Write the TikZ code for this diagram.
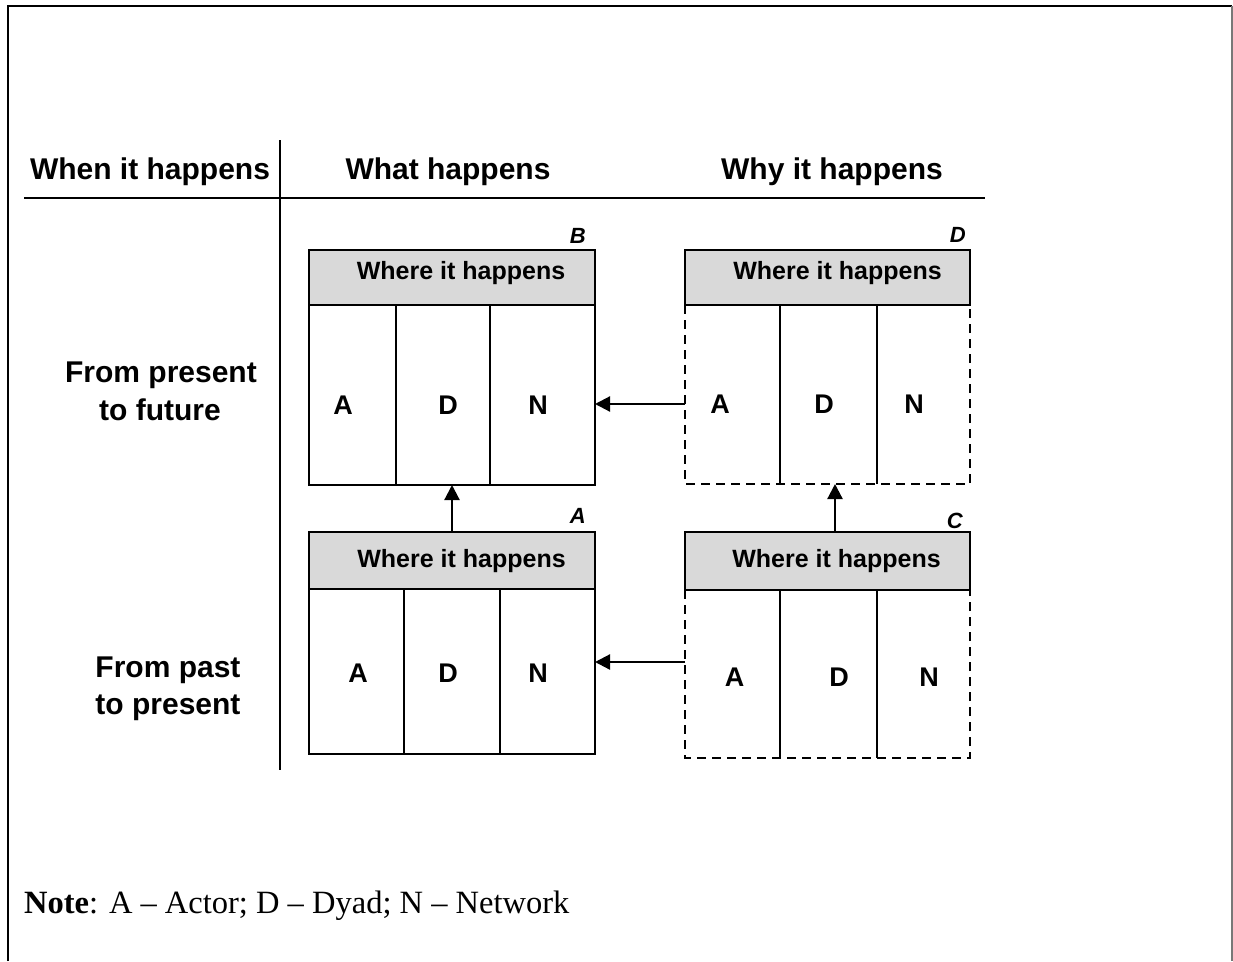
\documentclass[tikz,border=0pt]{standalone}
\usepackage{fontspec}
\setmainfont{Liberation Serif}
\newfontfamily\arial{Liberation Sans}
\usetikzlibrary{arrows.meta}
\definecolor{hdrgray}{RGB}{217,217,217}
\definecolor{framegray}{RGB}{120,120,120}
\begin{document}
\begin{tikzpicture}[x=1pt,y=-1pt,
  lw/.style={line width=2.2pt},
  hdr/.style={draw,lw,fill=hdrgray,inner sep=0pt,outer sep=0pt,minimum width=286pt},
  bodybox/.style={inner sep=0pt,outer sep=0pt,minimum width=286pt},
  solidbody/.style={bodybox,draw,lw},
  dashedge/.style={lw,dash pattern=on 9pt off 6pt},
  divider/.style={lw},
  coltitle/.style={anchor=base,font=\arial\bfseries\fontsize{30}{34}\selectfont},
  rowtitle/.style={anchor=base,font=\arial\bfseries\fontsize{30}{34}\selectfont},
  wheretext/.style={anchor=base,font=\arial\bfseries\fontsize{25}{28}\selectfont},
  letter/.style={anchor=base,font=\arial\bfseries\fontsize{27}{30}\selectfont},
  tag/.style={anchor=base east,inner sep=0pt,font=\arial\bfseries\itshape\fontsize{22}{24}\selectfont},
  arr/.style={lw,-{Triangle[length=15pt,width=15pt]}}
]
\useasboundingbox (0,0) rectangle (1233,961);
% outer frame
\draw[line width=2.6pt] (8,961) -- (8,6) -- (1232,6);
\draw[lw,framegray] (1232,6) -- (1232,961);

% table rules
\draw[lw] (24,198) -- (985,198);
\draw[lw] (280,140) -- (280,770);

% column titles
\node[coltitle] (tWhen) at (150,179) {When it happens};
\node[coltitle] (tWhat) at (448,179) {What happens};
\node[coltitle] (tWhy)  at (832,179) {Why it happens};

% row titles
\node[rowtitle] (r1a) at (161,382) {From present};
\node[rowtitle] (r1b) at (160,420) {to future};
\node[rowtitle] (r2a) at (168,677) {From past};
\node[rowtitle] (r2b) at (168,714) {to present};

% ---------- Box B (top left) ----------
\node[hdr,minimum height=55pt] (Bhead) at (452,277.5) {};
\node[wheretext] (Bwhere) at (461,279) {Where it happens};
\node[solidbody,minimum height=180pt] (Bbody) at (452,395) {};
\draw[divider] (396,305) -- (396,485);
\draw[divider] (490,305) -- (490,485);
\node[letter] (BA) at (343,414) {A};
\node[letter] (BD) at (448,414) {D};
\node[letter] (BN) at (538,414) {N};
\node[tag] (tagB) at (586,243) {B};

% ---------- Box D (top right) ----------
\node[hdr,minimum width=285pt,minimum height=55pt] (Dhead) at (827.5,277.5) {};
\node[wheretext] (Dwhere) at (837.5,279) {Where it happens};
\node[bodybox,minimum width=285pt,minimum height=179pt] (Dbody) at (827.5,394.5) {};
\draw[dashedge] (Dbody.north west) -- (Dbody.south west) -- (Dbody.south east) -- (Dbody.north east);
\draw[divider] (780,305) -- (780,484);
\draw[divider] (877,305) -- (877,484);
\node[letter] (DA) at (720,413) {A};
\node[letter] (DD) at (824,413) {D};
\node[letter] (DN) at (914,413) {N};
\node[tag] (tagD) at (966,242) {D};

% ---------- Box A (bottom left) ----------
\node[hdr,minimum height=57pt] (Ahead) at (452,560.5) {};
\node[wheretext] (Awhere) at (461.5,567) {Where it happens};
\node[solidbody,minimum height=165pt] (Abody) at (452,671.5) {};
\draw[divider] (404,589) -- (404,754);
\draw[divider] (500,589) -- (500,754);
\node[letter] (AA) at (358,682) {A};
\node[letter] (AD) at (448,682) {D};
\node[letter] (AN) at (538,682) {N};
\node[tag] (tagA) at (586,523) {A};

% ---------- Box C (bottom right) ----------
\node[hdr,minimum width=285pt,minimum height=58pt] (Chead) at (827.5,561) {};
\node[wheretext] (Cwhere) at (836.5,567.5) {Where it happens};
\node[bodybox,minimum width=285pt,minimum height=168pt] (Cbody) at (827.5,674) {};
\draw[dashedge] (Cbody.north west) -- (Cbody.south west) -- (Cbody.south east) -- (Cbody.north east);
\draw[divider] (780,590) -- (780,758);
\draw[divider] (877,590) -- (877,758);
\node[letter] (CA) at (734.5,686) {A};
\node[letter] (CD) at (839,686) {D};
\node[letter] (CN) at (929,686) {N};
\node[tag] (tagC) at (963,528) {C};

% ---------- connectors ----------
\draw[arr] ([yshift=-9.5pt]Dbody.west) -- ([yshift=-9.5pt]Dbody.west -| Bbody.east);
\draw[arr] ([yshift=12pt]Cbody.west) -- ([yshift=12pt]Cbody.west -| Abody.east);
\draw[arr] (Ahead.north) -- (Bbody.south);
\draw[arr] ([xshift=7.5pt]Chead.north) -- ([xshift=7.5pt]Dbody.south);

% note
\node[anchor=base west,font=\fontsize{32.5}{36}\selectfont,inner sep=0pt] (note) at (24,913) {\textbf{Note}: A -- Actor; D -- Dyad; N -- Network};
\end{tikzpicture}
\end{document}
